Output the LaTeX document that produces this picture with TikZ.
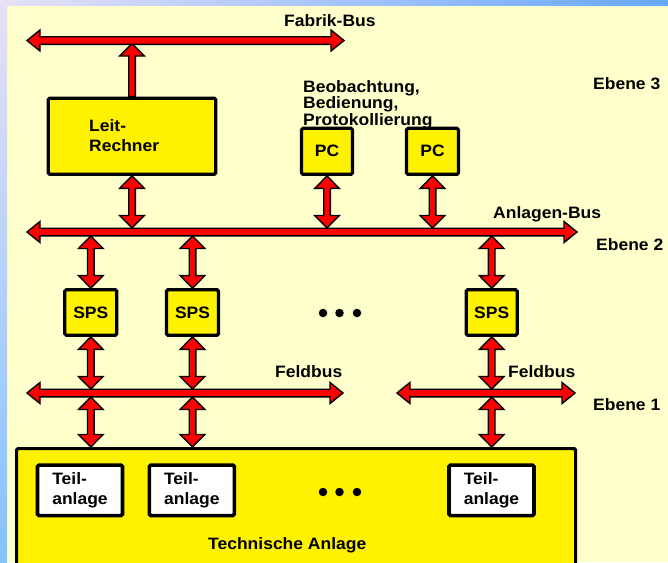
\documentclass[tikz,border=0pt]{standalone}
\usepackage{fontspec}
\setmainfont{Liberation Sans}[FakeStretch=1.06]
\usetikzlibrary{calc}
\definecolor{bgy}{HTML}{FFFFCC}
\definecolor{lav}{HTML}{E6E0F5}
\definecolor{blueR}{HTML}{66A8FF}
\definecolor{blueB}{HTML}{84C2FF}
\tikzset{
  lbl/.style={font={\fontsize{16.5}{20}\selectfont\bfseries}, inner sep=0pt},
  ybox/.style={draw=black, fill=yellow, line width=3.2pt, rounded corners=1.5pt, inner sep=0pt, lbl},
  wbox/.style={ybox, fill=white, line width=3.6pt},
  arr/.style={draw=black, fill=red, line width=1.4pt, line join=miter},
  bigdot/.style={circle, fill=black, minimum size=8.5pt, inner sep=0pt}
}
% vertical double arrow, x taken from #1 (upper end) to #2 (lower end)
\newcommand\vlink[2]{\path[arr] let \p1=(#1), \p2=(#2) in
  (\x1,\y1) -- (\x1+12.3pt,\y1-12.5pt) -- (\x1+3.3pt,\y1-12.5pt) -- (\x1+3.3pt,\y2+12.5pt)
  -- (\x1+12.3pt,\y2+12.5pt) -- (\x1,\y2) -- (\x1-12.3pt,\y2+12.5pt) -- (\x1-3.3pt,\y2+12.5pt)
  -- (\x1-3.3pt,\y1-12.5pt) -- (\x1-12.3pt,\y1-12.5pt) -- cycle;}
% single upward arrow from #1 (bottom) to #2 (top)
\newcommand\vup[2]{\path[arr] let \p1=(#1), \p2=(#2) in
  (\x1-3.3pt,\y1) -- (\x1-3.3pt,\y2-12.5pt) -- (\x1-12.3pt,\y2-12.5pt) -- (\x1,\y2)
  -- (\x1+12.3pt,\y2-12.5pt) -- (\x1+3.3pt,\y2-12.5pt) -- (\x1+3.3pt,\y1) -- cycle;}
% horizontal double arrow (bus) from #1 (left) to #2 (right)
\newcommand\hbus[2]{\path[arr] let \p1=(#1), \p2=(#2) in
  (\x1,\y1) -- (\x1+13pt,\y1+10.5pt) -- (\x1+13pt,\y1+3.8pt) -- (\x2-13pt,\y1+3.8pt)
  -- (\x2-13pt,\y1+10.5pt) -- (\x2,\y1) -- (\x2-13pt,\y1-10.5pt) -- (\x2-13pt,\y1-3.8pt)
  -- (\x1+13pt,\y1-3.8pt) -- (\x1+13pt,\y1-10.5pt) -- cycle;}
\begin{document}
\begin{tikzpicture}[x=1pt,y=-1pt]
\useasboundingbox (0,0) rectangle (668,562);
% background
\fill[bgy] (0,0) rectangle (668,562);
\shade[left color=lav, right color=blueR] (0,0) rectangle (668,5);
\shade[top color=lav, bottom color=blueB] (0,0) rectangle (7,562);

% bus end points
\coordinate (fbL) at (27,40.5);  \coordinate (fbR) at (344,40.5);
\coordinate (abL) at (27,232);   \coordinate (abR) at (577,232);
\coordinate (flL) at (27,393);   \coordinate (flR) at (343,393);
\coordinate (frL) at (397,393);  \coordinate (frR) at (575,393);

% boxes
\node[ybox, minimum width=167.6pt, minimum height=76pt] (lr) at (132,136.2) {};
\node[lbl, align=left, anchor=north west] (lrt) at (89,119) {Leit-\\Rechner};
\node[ybox, minimum width=51pt, minimum height=46pt] (pc1) at (327,151.3) {PC};
\node[ybox, minimum width=52pt, minimum height=46pt] (pc2) at (432.5,151.3) {PC};
\node[ybox, minimum width=52pt, minimum height=45.5pt] (sps1) at (90.8,312.5) {SPS};
\node[ybox, minimum width=52pt, minimum height=45.5pt] (sps2) at (192.5,312.5) {SPS};
\node[ybox, minimum width=51pt, minimum height=45.5pt] (sps3) at (491.7,312.5) {SPS};
\node[ybox, minimum width=559pt, minimum height=150pt, anchor=north west] (ta) at (15,447) {};
\node[wbox, align=left, minimum width=85pt, minimum height=50.5pt] (t1) at (80,490.3) {Teil-\\anlage};
\node[wbox, align=left, minimum width=85pt, minimum height=50.5pt] (t2) at (191.8,490.3) {Teil-\\anlage};
\node[wbox, align=left, minimum width=85pt, minimum height=50.5pt] (t3) at (491.5,490.3) {Teil-\\anlage};

% labels
\node[lbl, anchor=base west] (fbl) at (284,26) {Fabrik-Bus};
\node[lbl, anchor=base west] (abl) at (493,218) {Anlagen-Bus};
\node[lbl, anchor=base west] (e3) at (593,89.5) {Ebene 3};
\node[lbl, anchor=base west] (e2) at (596,250.5) {Ebene 2};
\node[lbl, anchor=base west] (e1) at (593,410) {Ebene 1};
\node[lbl, anchor=base west] (fll) at (275,377) {Feldbus};
\node[lbl, anchor=base west] (frl) at (508,377) {Feldbus};
\node[lbl, anchor=base west] (tal) at (208,549) {Technische Anlage};
\node[lbl, font={\fontsize{16.5}{15}\selectfont\bfseries}, align=left, anchor=north west] (beob) at (303,80) {Beobachtung,\\Bedienung,\\Protokollierung};

% dots
\node[bigdot] (d1) at (323,313) {};
\node[bigdot] (d2) at (339.5,313) {};
\node[bigdot] (d3) at (357,313) {};
\node[bigdot] (d4) at (323,492) {};
\node[bigdot] (d5) at (339.5,492) {};
\node[bigdot] (d6) at (357,492) {};

% vertical connectors
\vup{lr.north}{$(lr.north |- fbL)+(0,3)$}
\vlink{lr.south}{$(lr.south |- abL)+(0,-4)$}
\vlink{pc1.south}{$(pc1.south |- abL)+(0,-4)$}
\vlink{pc2.south}{$(pc2.south |- abL)+(0,-4)$}
\vlink{$(sps1.north |- abL)+(0,4)$}{sps1.north}
\vlink{$(sps2.north |- abL)+(0,4)$}{sps2.north}
\vlink{$(sps3.north |- abL)+(0,4)$}{sps3.north}
\vlink{sps1.south}{$(sps1.south |- flL)+(0,-4)$}
\vlink{sps2.south}{$(sps2.south |- flL)+(0,-4)$}
\vlink{sps3.south}{$(sps3.south |- frL)+(0,-4)$}
\vlink{$(sps1.south |- flL)+(0,4)$}{sps1.south |- ta.north}
\vlink{$(sps2.south |- flL)+(0,4)$}{sps2.south |- ta.north}
\vlink{$(sps3.south |- frL)+(0,4)$}{sps3.south |- ta.north}

% buses
\hbus{fbL}{fbR}
\hbus{abL}{abR}
\hbus{flL}{flR}
\hbus{frL}{frR}
\end{tikzpicture}
\end{document}
